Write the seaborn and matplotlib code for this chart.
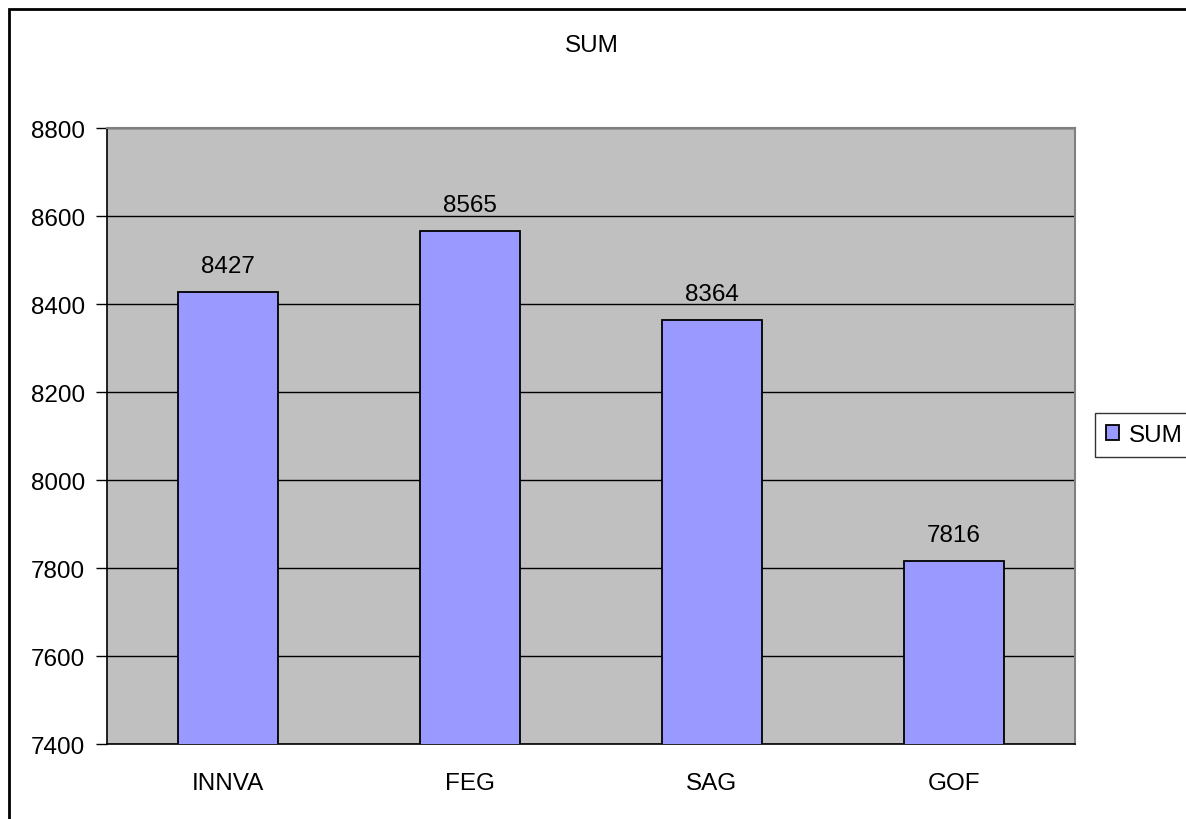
import matplotlib
matplotlib.use("Agg")
import matplotlib.pyplot as plt
from matplotlib.patches import Rectangle
import pandas as pd
import seaborn as sns

categories = ["INNVA", "FEG", "SAG", "GOF"]
values = [8427, 8565, 8364, 7816]
y_ticks = [7400, 7600, 7800, 8000, 8200, 8400, 8600, 8800]

sns.set_theme(style="white")
plt.rcParams["font.family"] = ["Liberation Sans", "DejaVu Sans"]
plt.rcParams["text.color"] = "black"
plt.rcParams["xtick.color"] = "black"
plt.rcParams["ytick.color"] = "black"

FS = 17.5

df = pd.DataFrame({"name": categories, "value": values})

fig = plt.figure(figsize=(11.86, 8.20), dpi=100)
ax = fig.add_axes([107 / 1186, 1 - 745 / 820, 968 / 1186, 616 / 820])
ax.set_facecolor("#C0C0C0")

sns.barplot(data=df, x="name", y="value", color="#9999FF", edgecolor="black",
            linewidth=1.3, width=0.41, saturation=1, label="SUM", ax=ax, zorder=3)

ax.set_ylim(7400, 8800)
ax.set_xlim(-0.5, 3.5)
ax.set_yticks(y_ticks)
ax.set_yticklabels([str(v) for v in y_ticks], fontsize=FS)
ax.yaxis.grid(True, color="black", linewidth=1)
ax.set_axisbelow(True)
ax.set_xlabel("")
ax.set_ylabel("")

# category labels centred, ticks at the category boundaries
ax.set_xticks(range(len(categories)))
ax.set_xticklabels(categories, fontsize=FS)
ax.set_xticks([i - 0.5 for i in range(len(categories) + 1)], minor=True)
ax.tick_params(axis="x", which="major", length=0, pad=20)
ax.tick_params(axis="x", which="minor", length=7, width=1, direction="out")
ax.tick_params(axis="y", length=8, width=1, direction="out", left=True, pad=8)

for side in ["top", "right"]:
    ax.spines[side].set_color("#808080")
    ax.spines[side].set_linewidth(1.5)
for side in ["left", "bottom"]:
    ax.spines[side].set_color("black")
    ax.spines[side].set_linewidth(1.2)

for i, v in enumerate(values):
    ax.annotate(str(v), (i, v), xytext=(0, 11), textcoords="offset points",
                ha="center", va="bottom", fontsize=FS)

fig.text(592 / 1186, 1 - 46 / 820, "SUM", ha="center", va="center", fontsize=FS)

leg = ax.legend(loc="center left", bbox_to_anchor=(1095 / 1186, 1 - 436 / 820),
                bbox_transform=fig.transFigure, fontsize=FS, frameon=True,
                fancybox=False, handlelength=0.55, handleheight=0.55,
                handletextpad=0.4, borderpad=0.45, borderaxespad=0)
leg.get_frame().set_edgecolor("black")
leg.get_frame().set_linewidth(1)

# outer chart border (clipped at right/bottom like the original)
fig.patches.append(Rectangle((9 / 1186, -0.1), 1.2, 1 - 10 / 820 + 0.1,
                             transform=fig.transFigure, fill=False,
                             edgecolor="black", linewidth=2))

fig.savefig("out.png", dpi=100)
